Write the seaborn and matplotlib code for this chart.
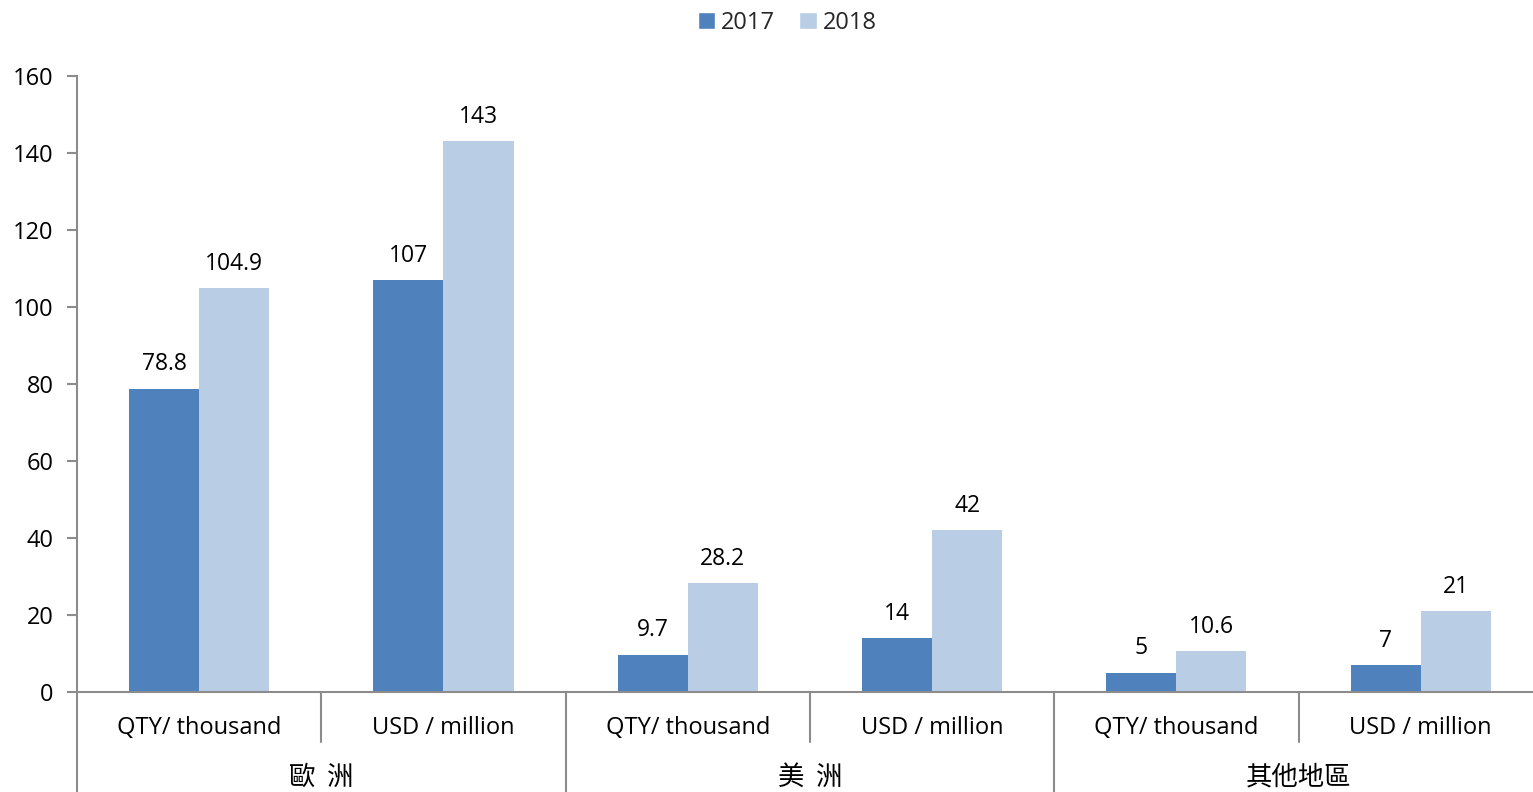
import matplotlib
matplotlib.use("Agg")
import matplotlib.pyplot as plt
import matplotlib.transforms as mtransforms
from matplotlib.patches import Patch
import seaborn as sns
import pandas as pd

categories = ["QTY/ thousand", "USD / million", "QTY/ thousand", "USD / million", "QTY/ thousand", "USD / million"]
groups = ["歐  洲", "美  洲", "其他地區"]
years = ["2017", "2018"]
values_2017 = [78.8, 107, 9.7, 14, 5, 7]
values_2018 = [104.9, 143, 28.2, 42, 10.6, 21]
label_2017 = ["78.8", "107", "9.7", "14", "5", "7"]
label_2018 = ["104.9", "143", "28.2", "42", "10.6", "21"]
colors = ["#4F81BD", "#B9CDE5"]

sns.set_theme(style="white")
plt.rcParams['font.family'] = ['Open Sans', 'Noto Sans CJK TC', 'DejaVu Sans']

pos = [f"c{i}" for i in range(len(categories))]
df = pd.DataFrame({
    "pos": pos * 2,
    "value": values_2017 + values_2018,
    "year": [years[0]] * len(pos) + [years[1]] * len(pos),
})

W, H = 1533, 792
fig = plt.figure(figsize=(W / 100, H / 100), dpi=100)
ax = fig.add_axes([77 / W, 100 / H, 6 * 244.3 / W, 616 / H])

sns.barplot(data=df, x="pos", y="value", hue="year", order=pos, hue_order=years,
            palette=colors, width=0.574, saturation=1, ax=ax, legend=False, linewidth=0)

ax.set_ylim(0, 160)
ax.set_xlim(-0.5, 5.5)
ax.set_yticks(range(0, 161, 20))
ax.set_xticks([])
ax.set_xlabel("")
ax.set_ylabel("")
for s in ["top", "right"]:
    ax.spines[s].set_visible(False)
gray = "#8c8c8c"
ax.spines["left"].set_color(gray)
ax.spines["bottom"].set_color(gray)
ax.spines["left"].set_linewidth(1.5)
ax.spines["bottom"].set_linewidth(1.5)
ax.tick_params(axis="y", left=True, length=7, width=1.5, color=gray, labelsize=17, pad=10, labelcolor="black")

for cont, labs in zip(ax.containers, [label_2017, label_2018]):
    ax.bar_label(cont, labels=labs, padding=9, fontsize=16.5, color="black")

trans = mtransforms.blended_transform_factory(ax.transData, ax.transAxes)
for i, c in enumerate(categories):
    ax.text(i, -36 / 616, c, transform=trans, ha="center", va="center", fontsize=17, color="black")
for g, name in enumerate(groups):
    ax.text(2 * g + 0.5, -85 / 616, name, transform=trans, ha="center", va="center", fontsize=19,
            color="black", family=['Noto Sans CJK TC', 'DejaVu Sans'])
for i in range(1, 6):
    bottom = -100 / 616 if i % 2 == 0 else -50 / 616
    ax.plot([i - 0.5, i - 0.5], [0, bottom], transform=trans, color=gray, lw=1.5, clip_on=False)
ax.plot([-0.5, -0.5], [0, -100 / 616], transform=trans, color=gray, lw=1.5, clip_on=False)

handles = [Patch(facecolor=colors[0], label=years[0]), Patch(facecolor=colors[1], label=years[1])]
fig.legend(handles=handles, loc="center", bbox_to_anchor=(787 / W, 1 - 23 / H), ncol=2, frameon=False,
           fontsize=17, handlelength=0.75, handleheight=0.75, handletextpad=0.25, columnspacing=1.0)

fig.savefig("out.png", dpi=100)
